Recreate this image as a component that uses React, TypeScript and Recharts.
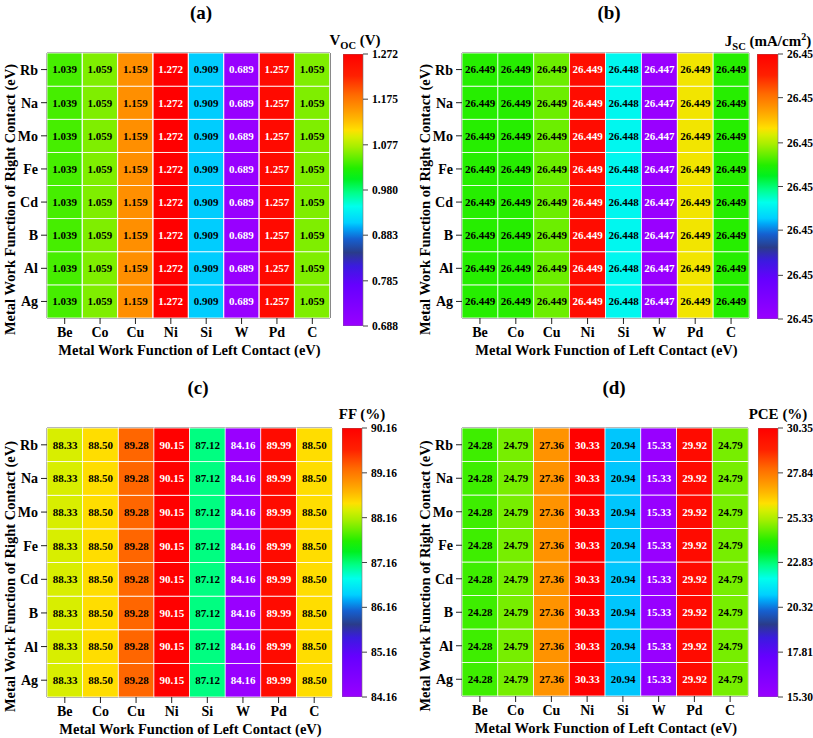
import React from 'react';
import { BarChart, Bar, XAxis, YAxis, ReferenceArea, Label } from 'recharts';

// ---------- data ----------
const leftContacts = ['Be', 'Co', 'Cu', 'Ni', 'Si', 'W', 'Pd', 'C'];
const rightContacts = ['Ag', 'Al', 'B', 'Cd', 'Fe', 'Mo', 'Na', 'Rb'];

const vocValues = [1.039, 1.059, 1.159, 1.272, 0.909, 0.689, 1.257, 1.059];
const jscValues = [26.44874, 26.44874, 26.44881, 26.4494, 26.44848, 26.447, 26.44896, 26.44874];
const ffValues = [88.33, 88.5, 89.28, 90.15, 87.12, 84.16, 89.99, 88.5];
const pceValues = [24.28, 24.79, 27.36, 30.33, 20.94, 15.33, 29.92, 24.79];

const vocTicks = [0.688, 0.785, 0.883, 0.98, 1.077, 1.175, 1.272];
const jscTicks = [26.44775, 26.44803, 26.44832, 26.4486, 26.44888, 26.44917, 26.44945];
const ffTicks = [84.16, 85.16, 86.16, 87.16, 88.16, 89.16, 90.16];
const pceTicks = [15.3, 17.81, 20.32, 22.83, 25.33, 27.84, 30.35];

// ---------- style ----------
const FONT = '"Liberation Serif", "Times New Roman", serif';

const cmapStops: [number, string][] = [
  [0.0, '#9900ff'], [0.15, '#6600ff'], [0.22, '#3b1ae0'], [0.27, '#2a3c8a'], [0.32, '#1560d0'],
  [0.36, '#00a8f8'], [0.38, '#00d0ff'], [0.44, '#00ffec'], [0.49, '#00ff88'], [0.54, '#00f020'],
  [0.58, '#22ee00'], [0.62, '#66ee00'], [0.66, '#a8ee00'], [0.695, '#d8ee00'], [0.72, '#ffe000'],
  [0.76, '#ffb800'], [0.8, '#ff9400'], [0.85, '#ff6a00'], [0.92, '#ff2000'], [1.0, '#ff0000'],
];

const hex = (h: string) => [1, 3, 5].map((i) => parseInt(h.slice(i, i + 2), 16));
function colorAt(t: number) {
  const tt = Math.max(0, Math.min(1, t));
  for (let i = 1; i < cmapStops.length; i++) {
    const [t1, c1] = cmapStops[i];
    const [t0, c0] = cmapStops[i - 1];
    if (tt <= t1) {
      const f = (tt - t0) / (t1 - t0 || 1);
      const a = hex(c0), b = hex(c1);
      const c = a.map((v, k) => Math.round(v + (b[k] - v) * f));
      return `rgb(${c[0]},${c[1]},${c[2]})`;
    }
  }
  return cmapStops[cmapStops.length - 1][1];
}

type PanelCfg = {
  id: string;
  left: number;
  top: number;
  width: number;
  plot: { l: number; t: number; r: number; b: number };
  title: string;
  titleX: number;
  cbTitle: React.ReactNode;
  cbTitleX: number;
  cbTitleY: number;
  cb: { x: number; w: number; t: number; b: number };
  values: number[];
  ticks: number[];
  tickFmt: (v: number) => string;
  cellFmt: (v: number) => string;
};

function Panel({ cfg }: { cfg: PanelCfg }) {
  const H = 369;
  const { plot } = cfg;
  const domain: [number, number] = [cfg.ticks[0], cfg.ticks[cfg.ticks.length - 1]];
  const data = leftContacts.map((name, i) => {
    const row: any = { left: name, value: cfg.values[i] };
    rightContacts.forEach((r) => (row[r] = 1));
    return row;
  });
  const xAxisH = 30;
  const cellShape = (p: any) => {
    const { x, y, width, height, payload } = p;
    const v = payload.value;
    const t = (v - domain[0]) / (domain[1] - domain[0]);
    const white = t < 0.15 || t > 0.9;
    return (
      <g>
        <rect x={x} y={y} width={width} height={height} fill={colorAt(t)} stroke="#ffffff" strokeWidth={0.8} />
        <text x={x + width / 2} y={y + height / 2} dy="0.35em" textAnchor="middle" fontFamily={FONT}
          fontWeight="bold" fontSize={11} fill={white ? '#ffffff' : '#000000'}>{cfg.cellFmt(v)}</text>
      </g>
    );
  };
  const plotCy = (plot.t + plot.b) / 2;
  const texts = () => (
    <g fontFamily={FONT} fontWeight="bold" fill="#000">
      <text x={cfg.titleX} y={19} textAnchor="middle" fontSize={19}>{cfg.title}</text>
      <text x={(plot.l + plot.r) / 2 + 1} y={plot.b + 37} textAnchor="middle" fontSize={14.5}>
        Metal Work Function of Left Contact  (eV)
      </text>
      <text x={15} y={plotCy + 14} textAnchor="middle" fontSize={14.5} transform={`rotate(-90 15 ${plotCy + 14})`}>
        Metal Work Function of Right Contact  (eV)
      </text>
      <text x={cfg.cbTitleX} y={cfg.cbTitleY} textAnchor="middle" fontSize={15}>{cfg.cbTitle}</text>
    </g>
  );

  const cbH = cfg.cb.b - cfg.cb.t;
  const gradId = `grad-${cfg.id}`;
  const cbShape = (p: any) => {
    const { x, y, width, height } = p;
    return (
      <g>
        <defs>
          <linearGradient id={gradId} x1="0" y1="1" x2="0" y2="0">
            {cmapStops.map(([o, c]) => (
              <stop key={o} offset={o} stopColor={c} />
            ))}
          </linearGradient>
        </defs>
        <rect x={x} y={y} width={width} height={height} fill={`url(#${gradId})`} stroke="#777" strokeWidth={0.6} />
      </g>
    );
  };

  return (
    <>
      <div style={{ position: 'absolute', left: cfg.left, top: cfg.top }}>
        <BarChart width={cfg.width} height={H} data={data} barCategoryGap={0} barGap={0}
          margin={{ top: plot.t, right: cfg.width - plot.r, bottom: H - plot.b - xAxisH, left: 0 }}>
          <XAxis dataKey="left" height={xAxisH} axisLine={false} tickSize={6} tickMargin={3}
            tickLine={{ stroke: '#222' }} interval={0}
            tick={{ fontFamily: FONT, fontWeight: 'bold', fontSize: 14, fill: '#000' }}>
            <Label content={texts} />
          </XAxis>
          <YAxis type="number" domain={[0, 8]} ticks={[0.5, 1.5, 2.5, 3.5, 4.5, 5.5, 6.5, 7.5]} width={plot.l}
            axisLine={false} tickSize={6} tickMargin={3} tickLine={{ stroke: '#222' }} interval={0}
            tickFormatter={(v: number) => rightContacts[Math.floor(v)]}
            tick={{ fontFamily: FONT, fontWeight: 'bold', fontSize: 14, fill: '#000' }} />
          {rightContacts.map((r) => (
            <Bar key={r} dataKey={r} stackId="s" isAnimationActive={false} shape={cellShape} />
          ))}
          <ReferenceArea y1={0} y2={8} fill="none" stroke="#111" strokeWidth={1} ifOverflow="visible" />
        </BarChart>
      </div>
      <div style={{ position: 'absolute', left: cfg.left + cfg.cb.x, top: cfg.top + cfg.cb.t - 10 }}>
        <BarChart width={cfg.cb.w + 56} height={cbH + 20} data={[{ name: 'cb', range: domain }]}
          barCategoryGap={0} margin={{ top: 10, right: 0, bottom: 10, left: 0 }}>
          <XAxis dataKey="name" hide />
          <YAxis orientation="right" type="number" domain={domain} ticks={cfg.ticks} allowDataOverflow
            width={56} axisLine={false} tickSize={5} tickMargin={4} interval={0}
            tickLine={{ stroke: '#444' }} tickFormatter={cfg.tickFmt}
            tick={{ fontFamily: FONT, fontWeight: 'bold', fontSize: 11.5, fill: '#000', textAnchor: 'start' }} />
          <Bar dataKey="range" isAnimationActive={false} shape={cbShape} />
        </BarChart>
      </div>
    </>
  );
}

const sub = (main: string, s: string, rest: React.ReactNode) => (
  <>
    <tspan>{main}</tspan>
    <tspan fontSize={10.5} dy={4}>{s}</tspan>
    <tspan dy={-4}>{rest}</tspan>
  </>
);

const panels: PanelCfg[] = [
  {
    id: 'a', left: 0, top: 0, width: 410,
    plot: { l: 47, t: 53, r: 330, b: 318 },
    title: '(a)', titleX: 201,
    cbTitle: sub('V', 'OC', ' (V)'), cbTitleX: 355, cbTitleY: 45,
    cb: { x: 343, w: 20, t: 54, b: 326 },
    values: vocValues, ticks: vocTicks,
    tickFmt: (v) => v.toFixed(3), cellFmt: (v) => v.toFixed(3),
  },
  {
    id: 'b', left: 415, top: 0, width: 398,
    plot: { l: 47, t: 53, r: 334, b: 318 },
    title: '(b)', titleX: 194,
    cbTitle: (
      <>
        <tspan>J</tspan>
        <tspan fontSize={10.5} dy={4}>SC</tspan>
        <tspan dy={-4}> (mA/cm</tspan>
        <tspan fontSize={10} dy={-6}>2</tspan>
        <tspan dy={6}>)</tspan>
      </>
    ),
    cbTitleX: 353, cbTitleY: 46,
    cb: { x: 342, w: 21, t: 54, b: 319 },
    values: jscValues, ticks: jscTicks,
    tickFmt: (v) => v.toFixed(2), cellFmt: (v) => v.toFixed(3),
  },
  {
    id: 'c', left: 0, top: 375, width: 410,
    plot: { l: 47, t: 53, r: 332, b: 322 },
    title: '(c)', titleX: 198,
    cbTitle: 'FF (%)', cbTitleX: 362, cbTitleY: 44,
    cb: { x: 342, w: 20, t: 53, b: 322 },
    values: ffValues, ticks: ffTicks,
    tickFmt: (v) => v.toFixed(2), cellFmt: (v) => v.toFixed(2),
  },
  {
    id: 'd', left: 415, top: 375, width: 398,
    plot: { l: 47, t: 53, r: 333, b: 321 },
    title: '(d)', titleX: 199,
    cbTitle: 'PCE (%)', cbTitleX: 363, cbTitleY: 44,
    cb: { x: 343, w: 20, t: 53, b: 322 },
    values: pceValues, ticks: pceTicks,
    tickFmt: (v) => v.toFixed(2), cellFmt: (v) => v.toFixed(2),
  },
];

export default function App() {
  return (
    <div style={{ position: 'absolute', left: 0, top: 0, width: 813, height: 738, background: '#ffffff', overflow: 'hidden' }}>
      {panels.map((p) => (
        <Panel key={p.id} cfg={p} />
      ))}
    </div>
  );
}
